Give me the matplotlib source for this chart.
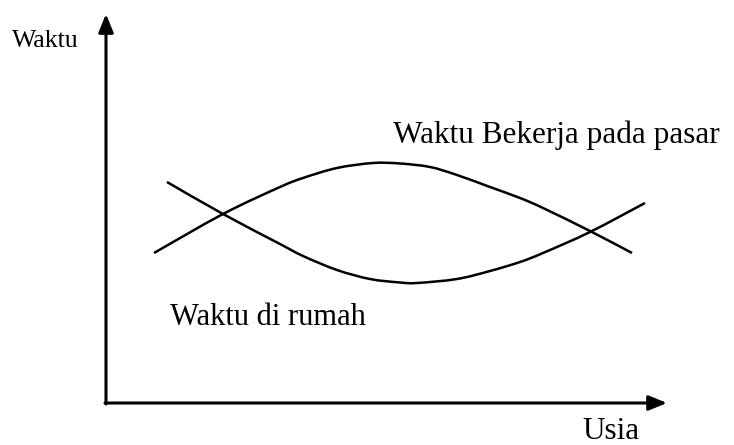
import matplotlib
matplotlib.use("Agg")
import matplotlib.pyplot as plt
from matplotlib.path import Path
from matplotlib.patches import PathPatch

# Schematic curves (x = usia, y = waktu) (pixel-like units)
usia_pasar = [154, 223, 280, 303, 337, 373, 400, 430, 457, 490, 520, 543, 590, 632]
waktu_pasar = [253, 214, 187, 178, 168, 163, 163.5, 167, 175, 187, 198, 208, 231, 253]

usia_rumah = [167, 223, 280, 303, 337, 370, 400, 417, 457, 490, 520, 543, 590, 645]
waktu_rumah = [182, 214, 244, 256, 270, 279, 282.5, 283, 279, 271, 262, 253, 232, 203]

label_y = "Waktu"
label_x = "Usia"
label_pasar = "Waktu Bekerja pada pasar"
label_rumah = "Waktu di rumah"

fig = plt.figure(figsize=(7.34, 4.45), dpi=100)
ax = fig.add_axes([0, 0, 1, 1])
ax.set_xlim(0, 734)
ax.set_ylim(445, 0)
ax.axis("off")

serif = ["Liberation Serif", "DejaVu Serif"]


def smooth_path(xs, ys):
    """Bezier path passing through the given points (Catmull-Rom control points)."""
    pts = list(zip(xs, ys))
    verts = [pts[0]]
    codes = [Path.MOVETO]
    n = len(pts)
    for i in range(n - 1):
        p0 = pts[i - 1] if i > 0 else pts[i]
        p1 = pts[i]
        p2 = pts[i + 1]
        p3 = pts[i + 2] if i + 2 < n else pts[i + 1]
        c1 = (p1[0] + (p2[0] - p0[0]) / 6.0, p1[1] + (p2[1] - p0[1]) / 6.0)
        c2 = (p2[0] - (p3[0] - p1[0]) / 6.0, p2[1] - (p3[1] - p1[1]) / 6.0)
        verts += [c1, c2, p2]
        codes += [Path.CURVE4] * 3
    return Path(verts, codes)


# axes arrows
ax.annotate("", xy=(106, 14), xytext=(106, 404),
            arrowprops=dict(arrowstyle="-|>,head_length=1.1,head_width=0.45",
                            lw=2.2, color="black", shrinkA=0, shrinkB=0))
ax.annotate("", xy=(667, 403), xytext=(105, 403),
            arrowprops=dict(arrowstyle="-|>,head_length=1.1,head_width=0.45",
                            lw=2.2, color="black", shrinkA=0, shrinkB=0))

for xs, ys in [(usia_pasar, waktu_pasar), (usia_rumah, waktu_rumah)]:
    ax.add_patch(PathPatch(smooth_path(xs, ys), facecolor="none",
                           edgecolor="black", lw=1.8, capstyle="butt"))

ax.text(12, 47, label_y, family=serif, fontsize=18.5, ha="left", va="baseline")
ax.text(582, 439, label_x, family=serif, fontsize=22.5, ha="left", va="baseline")
ax.text(393, 143, label_pasar, family=serif, fontsize=22.5, ha="left", va="baseline")
ax.text(170, 325, label_rumah, family=serif, fontsize=22, ha="left", va="baseline")

fig.savefig("out.png", dpi=100, facecolor="white")
